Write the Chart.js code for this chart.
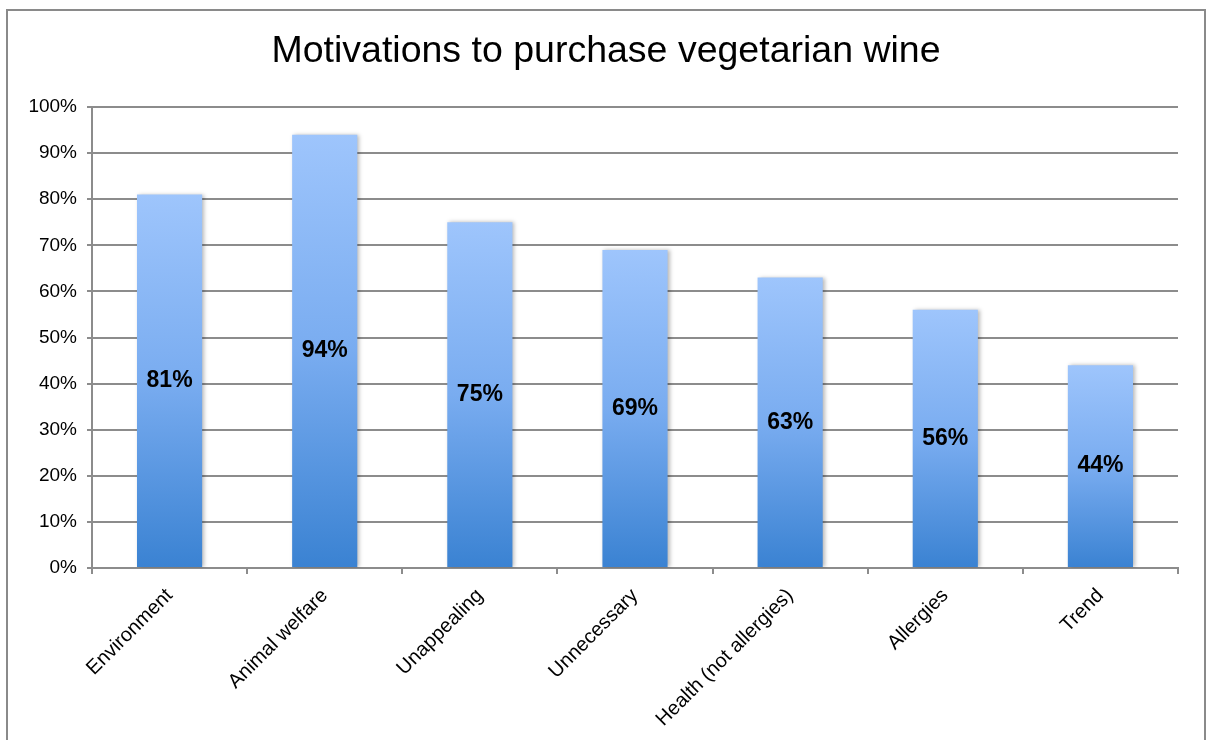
<!DOCTYPE html>
<html>
<head>
<meta charset="utf-8">
<title>Motivations to purchase vegetarian wine</title>
<script src="https://cdn.jsdelivr.net/npm/chart.js@4/dist/chart.umd.min.js"></script>
<style>
    html, body { margin: 0; padding: 0; background: #fff; overflow: hidden; }
    #wrap { position: absolute; left: 0; top: 0; width: 1207px; height: 740px; }
</style>
</head>
<body>
<div id="wrap"><canvas id="chart" width="1207" height="740"></canvas></div>
<script>
const chartTitle = 'Motivations to purchase vegetarian wine';
const categories = ['Environment', 'Animal welfare', 'Unappealing', 'Unnecessary', 'Health (not allergies)', 'Allergies', 'Trend'];
const shares = [81, 94, 75, 69, 63, 56, 44];
const yTicks = [0, 10, 20, 30, 40, 50, 60, 70, 80, 90, 100];

const FONT = '"Liberation Sans", Arial, sans-serif';
const GRID = '#8c8c8c';

// per-bar vertical gradient, light on top, darker at the base
function barGradient(context) {
    const chart = context.chart;
    if (!chart.chartArea) return '#7fb0f0';
    const y = chart.scales.y;
    const top = y.getPixelForValue(context.raw);
    const bottom = y.getPixelForValue(0);
    const g = chart.ctx.createLinearGradient(0, top, 0, bottom);
    g.addColorStop(0, '#9ec5fc');
    g.addColorStop(0.5, '#79acf0');
    g.addColorStop(1, '#3a82d2');
    return g;
}

// outer frame and the title centred in it
const framePlugin = {
    id: 'frame',
    beforeDraw(chart) {
        const ctx = chart.ctx;
        ctx.save();
        ctx.strokeStyle = '#8a8a8a';
        ctx.lineWidth = 2;
        ctx.strokeRect(7, 10, 1198, 760);
        ctx.font = '37.5px ' + FONT;
        ctx.fillStyle = '#000';
        ctx.textAlign = 'center';
        ctx.textBaseline = 'middle';
        ctx.fillText(chartTitle, 606, 52);
        ctx.restore();
    }
};

// soft shadow behind the bars
const shadowPlugin = {
    id: 'barShadow',
    beforeDatasetsDraw(chart) {
        const ctx = chart.ctx;
        ctx.save();
        ctx.shadowColor = 'rgba(0,0,0,0.28)';
        ctx.shadowBlur = 4;
        ctx.shadowOffsetX = 2;
        ctx.shadowOffsetY = 0;
    },
    afterDatasetsDraw(chart) {
        chart.ctx.restore();
    }
};

// value labels in the middle of each bar
const valueLabels = {
    id: 'valueLabels',
    afterDatasetsDraw(chart) {
        const ctx = chart.ctx;
        const meta = chart.getDatasetMeta(0);
        ctx.save();
        ctx.font = 'bold 23px ' + FONT;
        ctx.fillStyle = '#000';
        ctx.textAlign = 'center';
        ctx.textBaseline = 'middle';
        meta.data.forEach((bar, i) => {
            const mid = (bar.y + bar.base) / 2;
            ctx.fillText(shares[i] + '%', bar.x, mid);
        });
        ctx.restore();
    }
};

new Chart(document.getElementById('chart'), {
    type: 'bar',
    data: {
        labels: categories,
        datasets: [{
            data: shares,
            backgroundColor: barGradient,
            borderWidth: 0,
            barPercentage: 0.42,
            categoryPercentage: 1
        }]
    },
    options: {
        responsive: false,
        animation: false,
        events: [],
        layout: { padding: { top: 107, left: 20, right: 29, bottom: 0 } },
        plugins: {
            legend: { display: false },
            tooltip: { enabled: false },
            title: { display: false }
        },
        scales: {
            x: {
                grid: {
                    display: true,
                    drawOnChartArea: false,
                    drawTicks: true,
                    tickLength: 6,
                    color: GRID,
                    lineWidth: 2
                },
                border: { display: true, color: GRID, width: 2 },
                ticks: {
                    color: '#000',
                    font: { family: FONT, size: 20 },
                    minRotation: 45,
                    maxRotation: 45,
                    autoSkip: false,
                    padding: 10
                },
                afterFit(scale) { scale.height = 172; }
            },
            y: {
                min: 0,
                max: 100,
                afterBuildTicks(scale) { scale.ticks = yTicks.map(v => ({ value: v })); },
                grid: {
                    color: GRID,
                    lineWidth: 2,
                    tickLength: 5
                },
                border: { display: true, color: GRID, width: 2 },
                ticks: {
                    color: '#000',
                    font: { family: FONT, size: 19 },
                    padding: 10,
                    callback: v => v + '%'
                },
                afterFit(scale) { scale.width = 72; }
            }
        }
    },
    plugins: [framePlugin, shadowPlugin, valueLabels]
});
</script>
</body>
</html>
